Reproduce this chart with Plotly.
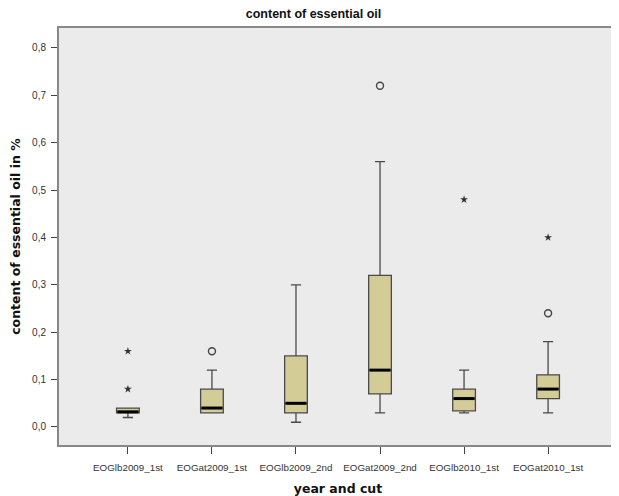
import plotly.graph_objects as go

categories = ["EOGlb2009_1st", "EOGat2009_1st", "EOGlb2009_2nd",
              "EOGat2009_2nd", "EOGlb2010_1st", "EOGat2010_1st"]
lower_whisker = [0.02, 0.03, 0.01, 0.03, 0.03, 0.03]
q1 = [0.03, 0.03, 0.03, 0.07, 0.034, 0.06]
median = [0.032, 0.04, 0.05, 0.12, 0.06, 0.08]
q3 = [0.04, 0.08, 0.15, 0.32, 0.08, 0.11]
upper_whisker = [0.04, 0.12, 0.30, 0.56, 0.12, 0.18]

# outliers: (category index, value)
circle_cat = [1, 3, 5]
circle_val = [0.16, 0.72, 0.24]
star_cat = [0, 0, 4, 5]
star_val = [0.16, 0.08, 0.48, 0.40]

yticks = [0.0, 0.1, 0.2, 0.3, 0.4, 0.5, 0.6, 0.7, 0.8]
ytick_text = [f"{v:.1f}".replace(".", ",") for v in yticks]

fill = "#d3cc96"
edge = "#4a4a4a"
box_w = 0.27

xs = list(range(len(categories)))

fig = go.Figure()
fig.add_trace(go.Box(
    x=xs, q1=q1, median=median, q3=q3,
    lowerfence=lower_whisker, upperfence=upper_whisker,
    width=box_w, whiskerwidth=0.45,
    fillcolor=fill, line=dict(color=edge, width=1.3),
    boxpoints=False, showlegend=False, hoverinfo="skip",
))

# thick median lines
mx, my = [], []
for i, m in zip(xs, median):
    mx += [i - box_w / 2 + 0.01, i + box_w / 2 - 0.01, None]
    my += [m, m, None]
fig.add_trace(go.Scatter(x=mx, y=my, mode="lines",
                         line=dict(color="black", width=3),
                         showlegend=False, hoverinfo="skip"))

fig.add_trace(go.Scatter(x=circle_cat, y=circle_val, mode="markers",
                         marker=dict(symbol="circle-open", size=7,
                                     color="#444", line=dict(width=1.4)),
                         showlegend=False))
fig.add_trace(go.Scatter(x=star_cat, y=star_val, mode="markers",
                         marker=dict(symbol="star", size=6, color="#333"),
                         showlegend=False))

# page body has an 8px default margin, so the figure is 8px smaller
fig.update_layout(
    width=611, height=488,
    margin=dict(l=51, r=2, t=20, b=51),
    paper_bgcolor="white", plot_bgcolor="#ebebeb",
    title=dict(text="<b>content of essential oil</b>", x=0.5, xanchor="center",
               y=1, yanchor="top", pad=dict(t=1),
               font=dict(family="Liberation Sans, Arial", size=12.5, color="#111")),
    xaxis=dict(range=[-0.82, 5.82], tickmode="array", tickvals=xs,
               ticktext=categories, showgrid=False, zeroline=False,
               ticks="outside", ticklen=7, tickcolor="#444", tickwidth=1,
               ticklabelstandoff=5,
               showline=True, linecolor="#888", linewidth=2, mirror=True,
               automargin=False,
               tickfont=dict(family="Liberation Sans, Arial", size=9.8, color="#333"),
               title=dict(text="<b>year and cut</b>", standoff=12,
                          font=dict(family="DejaVu Sans", size=12.5, color="#111"))),
    yaxis=dict(range=[-0.038, 0.842], tickmode="array", tickvals=yticks,
               ticktext=ytick_text, showgrid=False, zeroline=False,
               ticks="outside", ticklen=6, tickcolor="#444", tickwidth=1,
               ticklabelstandoff=3,
               showline=True, linecolor="#888", linewidth=2, mirror=True,
               automargin=False,
               tickfont=dict(family="Liberation Sans, Arial", size=10, color="#333"),
               title=dict(text="<b>content of essential oil in %</b>", standoff=10,
                          font=dict(family="DejaVu Sans", size=12.5, color="#111"))),
)

fig.write_html("out.html")
